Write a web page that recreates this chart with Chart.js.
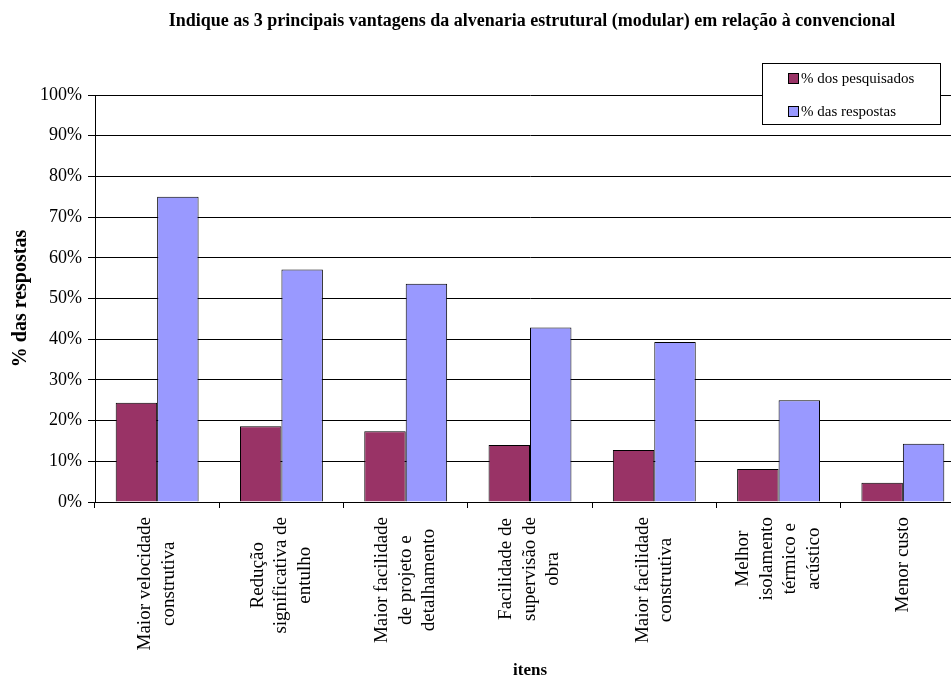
<!DOCTYPE html>
<html lang="pt">
<head>
<meta charset="utf-8">
<script src="https://cdn.jsdelivr.net/npm/chart.js@4.4.1/dist/chart.umd.min.js"></script>
<style>
  html, body { margin: 0; padding: 0; background: #fff; overflow: hidden; }
  #wrap { width: 951px; height: 681px; overflow: hidden; position: relative; }
  canvas { display: block; }
</style>
</head>
<body>
<div id="wrap"><canvas id="c" width="980" height="681"></canvas></div>
<script>
// Categories (multi-line labels)
const categories = [
  ["Maior velocidade", "construtiva"],
  ["Redução", "significativa de", "entulho"],
  ["Maior facilidade", "de projeto e", "detalhamento"],
  ["Facilidade de", "supervisão de", "obra"],
  ["Maior facilidade", "construtiva"],
  ["Melhor", "isolamento", "térmico e", "acústico"],
  ["Menor custo"]
];
// Series values in percent
const pesquisados = [24.4, 18.6, 17.4, 14.0, 12.8, 8.1, 4.7];
const respostas   = [75.0, 57.1, 53.6, 42.9, 39.3, 25.0, 14.3];
// Y tick values
const yTicks = [0, 10, 20, 30, 40, 50, 60, 70, 80, 90, 100];

const seriesNames = ["% dos pesquisados", "% das respostas"];
const chartTitle = "Indique as 3 principais vantagens da alvenaria estrutural (modular) em relação à convencional";

const SERIF = "'Liberation Serif', 'Times New Roman', serif";

// Draws the title, the boxed legend and the centred rotated category labels
const decor = {
  id: 'decor',
  afterDraw(chart) {
    const ctx = chart.ctx;
    const xs = chart.scales.x;
    ctx.save();
    // title
    ctx.fillStyle = '#000';
    ctx.font = "bold 18px " + SERIF;
    ctx.textAlign = 'center';
    ctx.textBaseline = 'middle';
    ctx.fillText(chartTitle, 532, 21);

    // category labels, rotated, lines centred on each other
    ctx.font = "19px " + SERIF;
    const lh = 23.5;
    const axisY = xs.top;
    categories.forEach((lines, i) => {
      const cx = xs.getPixelForTick(i);
      let maxW = 0;
      lines.forEach(l => { maxW = Math.max(maxW, ctx.measureText(l).width); });
      ctx.save();
      ctx.translate(cx, axisY);
      ctx.rotate(-Math.PI / 2);
      ctx.textAlign = 'center';
      ctx.textBaseline = 'middle';
      const mid = -(15 + maxW / 2);
      lines.forEach((l, k) => {
        ctx.fillText(l, mid, (k - (lines.length - 1) / 2) * lh);
      });
      ctx.restore();
    });

    // legend box
    const bx = 762.5, by = 63.5, bw = 178, bh = 61;
    ctx.fillStyle = '#fff';
    ctx.fillRect(bx, by, bw, bh);
    ctx.strokeStyle = '#000';
    ctx.lineWidth = 1;
    ctx.strokeRect(bx, by, bw, bh);
    ctx.font = "15px " + SERIF;
    ctx.textAlign = 'left';
    ctx.textBaseline = 'middle';
    chart.data.datasets.forEach((ds, i) => {
      const sy = 73.5 + i * 33;
      ctx.fillStyle = ds.backgroundColor;
      ctx.fillRect(788.5, sy, 10, 10);
      ctx.strokeStyle = '#000';
      ctx.strokeRect(788.5, sy, 10, 10);
      ctx.fillStyle = '#000';
      ctx.fillText(ds.label, 801, sy + 5.5);
    });
    ctx.restore();
  }
};

new Chart(document.getElementById('c'), {
  type: 'bar',
  data: {
    labels: categories,
    datasets: [
      { label: seriesNames[0], data: pesquisados, backgroundColor: '#993366', borderColor: '#000', borderWidth: 1 },
      { label: seriesNames[1], data: respostas, backgroundColor: '#9999FF', borderColor: '#000', borderWidth: 1 }
    ]
  },
  options: {
    responsive: false,
    animation: false,
    devicePixelRatio: 1,
    layout: { padding: { top: 95, right: 15, left: 0, bottom: 0 } },
    plugins: {
      legend: { display: false },
      title: { display: false },
      tooltip: { enabled: false }
    },
    datasets: { bar: { categoryPercentage: 0.667, barPercentage: 1.0 } },
    scales: {
      x: {
        offset: true,
        grid: { display: true, drawOnChartArea: false, drawTicks: true, tickLength: 6, color: '#000', offset: true },
        border: { display: true, color: '#000', width: 1 },
        ticks: { display: false },
        title: { display: true, text: 'itens', color: '#000', font: { family: SERIF, size: 17, weight: 'bold' }, padding: { top: 0, bottom: 0 } },
        afterFit(scale) { scale.height = 179; }
      },
      y: {
        min: 0,
        max: 100,
        afterBuildTicks(scale) { scale.ticks = yTicks.map(v => ({ value: v })); },
        grid: { color: '#000', lineWidth: 1, tickLength: 7, drawTicks: true },
        border: { display: true, color: '#000', width: 1 },
        ticks: {
          color: '#000',
          padding: 6,
          font: { family: SERIF, size: 18 },
          callback: v => v + '%'
        },
        title: { display: true, text: '% das respostas', color: '#000', font: { family: SERIF, size: 20, weight: 'bold' }, padding: { top: 9, bottom: 0 } },
        afterFit(scale) { scale.width = 95; }
      }
    }
  },
  plugins: [decor]
});
</script>
</body>
</html>
